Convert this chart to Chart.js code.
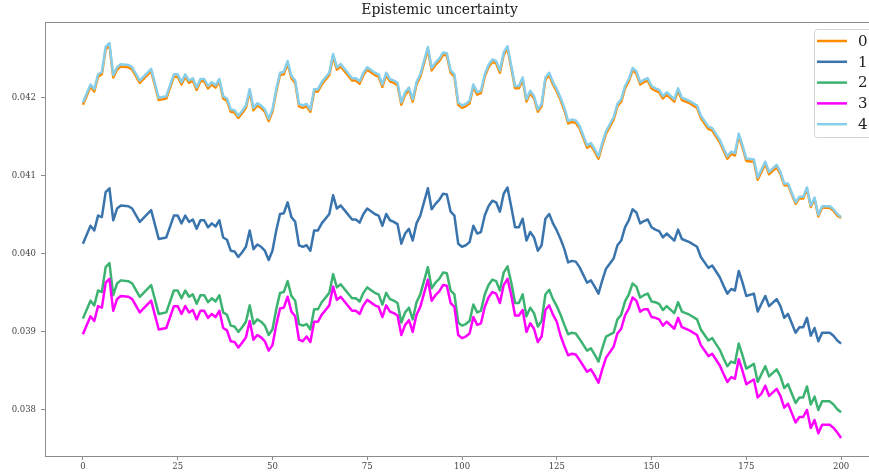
<!DOCTYPE html>
<html>
<head>
<meta charset="utf-8">
<script src="https://cdn.jsdelivr.net/npm/chart.js@4.4.0/dist/chart.umd.min.js"></script>
<style>
  html, body { margin: 0; padding: 0; background: #fff; overflow: hidden; }
  #wrap { position: absolute; left: 0; top: 0; width: 880px; height: 476px; }
</style>
</head>
<body>
<div id="wrap"><canvas id="graf"></canvas></div>
<script>
// x-positions (steps) shared by all five curves
const steps = [
  0, 2, 3, 4, 5, 6, 7, 8, 9, 10,
  12, 13, 15, 18, 20, 22, 24, 25, 26, 27,
  28, 29, 30, 31, 32, 33, 34, 35, 36, 37,
  38, 39, 40, 41, 42, 43, 44, 45, 46, 47,
  48, 49, 50, 51, 52, 53, 54, 55, 56, 57,
  58, 59, 60, 61, 62, 63, 65, 66, 67, 68,
  69, 71, 72, 73, 74, 75, 77, 78, 79, 80,
  81, 82, 83, 84, 85, 86, 87, 88, 89, 91,
  92, 93, 94, 95, 96, 97, 98, 99, 100, 101,
  102, 103, 104, 105, 106, 107, 108, 109, 110, 111,
  112, 113, 114, 115, 116, 117, 118, 119, 120, 121,
  122, 123, 124, 125, 126, 127, 128, 129, 130, 131,
  133, 134, 135, 136, 137, 138, 140, 141, 142, 143,
  144, 145, 146, 147, 148, 149, 150, 151, 152, 153,
  154, 156, 157, 158, 160, 162, 163, 165, 166, 168,
  169, 170, 171, 172, 173, 174, 175, 177, 178, 179,
  180, 181, 183, 184, 185, 186, 188, 189, 190, 191,
  192, 193, 194, 195, 197, 198, 199, 200
];

const serie0 = [
  0.04191, 0.04214, 0.04208, 0.04227, 0.04230, 0.04262, 0.04267, 0.04226, 0.04236, 0.04240,
  0.04239, 0.04236, 0.04219, 0.04234, 0.04197, 0.04199, 0.04227, 0.04227, 0.04217, 0.04227,
  0.04219, 0.04222, 0.04210, 0.04221, 0.04221, 0.04212, 0.04217, 0.04213, 0.04221, 0.04199,
  0.04196, 0.04182, 0.04181, 0.04174, 0.04180, 0.04187, 0.04208, 0.04184, 0.04190, 0.04187,
  0.04182, 0.04170, 0.04182, 0.04208, 0.04229, 0.04230, 0.04244, 0.04225, 0.04219, 0.04189,
  0.04187, 0.04189, 0.04182, 0.04208, 0.04208, 0.04217, 0.04229, 0.04253, 0.04236, 0.04240,
  0.04234, 0.04222, 0.04222, 0.04218, 0.04229, 0.04236, 0.04229, 0.04227, 0.04214, 0.04229,
  0.04221, 0.04219, 0.04216, 0.04191, 0.04204, 0.04210, 0.04195, 0.04217, 0.04227, 0.04262,
  0.04235, 0.04242, 0.04247, 0.04255, 0.04254, 0.04232, 0.04227, 0.04191, 0.04187, 0.04189,
  0.04193, 0.04214, 0.04204, 0.04206, 0.04227, 0.04239, 0.04246, 0.04244, 0.04232, 0.04255,
  0.04263, 0.04238, 0.04212, 0.04212, 0.04223, 0.04195, 0.04206, 0.04199, 0.04182, 0.04189,
  0.04223, 0.04229, 0.04217, 0.04208, 0.04197, 0.04184, 0.04167, 0.04169, 0.04168, 0.04161,
  0.04136, 0.04139, 0.04131, 0.04122, 0.04139, 0.04154, 0.04172, 0.04189, 0.04195, 0.04212,
  0.04221, 0.04235, 0.04231, 0.04217, 0.04220, 0.04222, 0.04212, 0.04209, 0.04207, 0.04199,
  0.04204, 0.04195, 0.04209, 0.04197, 0.04193, 0.04187, 0.04174, 0.04160, 0.04158, 0.04143,
  0.04132, 0.04122, 0.04128, 0.04126, 0.04151, 0.04136, 0.04119, 0.04118, 0.04095, 0.04105,
  0.04115, 0.04102, 0.04111, 0.04102, 0.04088, 0.04088, 0.04064, 0.04071, 0.04071, 0.04083,
  0.04060, 0.04070, 0.04048, 0.04059, 0.04059, 0.04055, 0.04049, 0.04046
];

const serie1 = [
  0.04013, 0.04036, 0.04030, 0.04049, 0.04047, 0.04079, 0.04084, 0.04043, 0.04058, 0.04062,
  0.04061, 0.04058, 0.04041, 0.04056, 0.04019, 0.04021, 0.04049, 0.04049, 0.04039, 0.04049,
  0.04041, 0.04044, 0.04032, 0.04043, 0.04043, 0.04034, 0.04039, 0.04035, 0.04043, 0.04021,
  0.04018, 0.04004, 0.04003, 0.03996, 0.04002, 0.04009, 0.04030, 0.04006, 0.04012, 0.04009,
  0.04004, 0.03992, 0.04004, 0.04030, 0.04051, 0.04052, 0.04066, 0.04047, 0.04041, 0.04011,
  0.04009, 0.04011, 0.04004, 0.04030, 0.04030, 0.04039, 0.04051, 0.04075, 0.04058, 0.04062,
  0.04056, 0.04044, 0.04044, 0.04040, 0.04051, 0.04058, 0.04051, 0.04049, 0.04036, 0.04051,
  0.04043, 0.04041, 0.04038, 0.04013, 0.04026, 0.04032, 0.04017, 0.04039, 0.04049, 0.04084,
  0.04057, 0.04064, 0.04069, 0.04077, 0.04076, 0.04054, 0.04049, 0.04013, 0.04009, 0.04011,
  0.04015, 0.04036, 0.04026, 0.04028, 0.04049, 0.04061, 0.04068, 0.04066, 0.04054, 0.04077,
  0.04085, 0.04060, 0.04034, 0.04034, 0.04045, 0.04017, 0.04028, 0.04021, 0.04004, 0.04011,
  0.04045, 0.04051, 0.04039, 0.04030, 0.04019, 0.04006, 0.03989, 0.03991, 0.03990, 0.03983,
  0.03963, 0.03966, 0.03958, 0.03949, 0.03966, 0.03981, 0.03994, 0.04011, 0.04017, 0.04034,
  0.04043, 0.04057, 0.04053, 0.04039, 0.04042, 0.04044, 0.04034, 0.04031, 0.04029, 0.04021,
  0.04026, 0.04017, 0.04031, 0.04019, 0.04015, 0.04009, 0.03996, 0.03982, 0.03985, 0.03970,
  0.03959, 0.03949, 0.03955, 0.03953, 0.03978, 0.03963, 0.03946, 0.03949, 0.03926, 0.03936,
  0.03946, 0.03933, 0.03942, 0.03933, 0.03918, 0.03923, 0.03899, 0.03906, 0.03906, 0.03918,
  0.03895, 0.03905, 0.03888, 0.03899, 0.03899, 0.03895, 0.03889, 0.03885
];

const serie2 = [
  0.03917, 0.03940, 0.03934, 0.03953, 0.03951, 0.03983, 0.03988, 0.03947, 0.03962, 0.03966,
  0.03965, 0.03962, 0.03945, 0.03960, 0.03923, 0.03925, 0.03953, 0.03953, 0.03943, 0.03953,
  0.03945, 0.03948, 0.03936, 0.03947, 0.03947, 0.03938, 0.03943, 0.03939, 0.03947, 0.03925,
  0.03922, 0.03908, 0.03907, 0.03900, 0.03906, 0.03913, 0.03934, 0.03910, 0.03916, 0.03913,
  0.03908, 0.03896, 0.03903, 0.03929, 0.03950, 0.03951, 0.03965, 0.03946, 0.03940, 0.03910,
  0.03908, 0.03910, 0.03903, 0.03929, 0.03929, 0.03938, 0.03950, 0.03974, 0.03957, 0.03961,
  0.03955, 0.03943, 0.03943, 0.03939, 0.03950, 0.03957, 0.03950, 0.03948, 0.03935, 0.03950,
  0.03942, 0.03940, 0.03937, 0.03912, 0.03925, 0.03931, 0.03916, 0.03938, 0.03948, 0.03983,
  0.03956, 0.03963, 0.03968, 0.03976, 0.03975, 0.03953, 0.03948, 0.03912, 0.03908, 0.03910,
  0.03914, 0.03935, 0.03925, 0.03927, 0.03948, 0.03960, 0.03967, 0.03965, 0.03953, 0.03976,
  0.03984, 0.03963, 0.03937, 0.03937, 0.03948, 0.03920, 0.03931, 0.03924, 0.03907, 0.03914,
  0.03948, 0.03954, 0.03942, 0.03933, 0.03922, 0.03909, 0.03897, 0.03899, 0.03898, 0.03891,
  0.03876, 0.03879, 0.03871, 0.03862, 0.03879, 0.03894, 0.03899, 0.03916, 0.03922, 0.03939,
  0.03948, 0.03962, 0.03958, 0.03944, 0.03947, 0.03949, 0.03939, 0.03938, 0.03936, 0.03928,
  0.03933, 0.03924, 0.03938, 0.03926, 0.03922, 0.03916, 0.03903, 0.03889, 0.03892, 0.03877,
  0.03866, 0.03856, 0.03862, 0.03860, 0.03885, 0.03870, 0.03853, 0.03859, 0.03836, 0.03846,
  0.03856, 0.03843, 0.03852, 0.03843, 0.03828, 0.03833, 0.03809, 0.03816, 0.03816, 0.03830,
  0.03807, 0.03817, 0.03800, 0.03811, 0.03811, 0.03807, 0.03801, 0.03797
];

const serie3 = [
  0.03897, 0.03920, 0.03914, 0.03933, 0.03931, 0.03963, 0.03968, 0.03927, 0.03942, 0.03946,
  0.03945, 0.03942, 0.03925, 0.03940, 0.03903, 0.03905, 0.03933, 0.03933, 0.03923, 0.03933,
  0.03925, 0.03928, 0.03916, 0.03927, 0.03927, 0.03918, 0.03923, 0.03919, 0.03927, 0.03905,
  0.03902, 0.03888, 0.03887, 0.03880, 0.03886, 0.03893, 0.03914, 0.03890, 0.03896, 0.03893,
  0.03888, 0.03876, 0.03883, 0.03909, 0.03930, 0.03931, 0.03945, 0.03926, 0.03920, 0.03890,
  0.03888, 0.03894, 0.03887, 0.03913, 0.03913, 0.03922, 0.03934, 0.03958, 0.03941, 0.03945,
  0.03939, 0.03927, 0.03927, 0.03923, 0.03934, 0.03941, 0.03934, 0.03932, 0.03919, 0.03934,
  0.03926, 0.03924, 0.03921, 0.03896, 0.03909, 0.03915, 0.03900, 0.03922, 0.03932, 0.03967,
  0.03940, 0.03947, 0.03952, 0.03960, 0.03959, 0.03937, 0.03932, 0.03896, 0.03892, 0.03894,
  0.03898, 0.03919, 0.03909, 0.03911, 0.03932, 0.03944, 0.03951, 0.03949, 0.03937, 0.03960,
  0.03968, 0.03947, 0.03921, 0.03921, 0.03928, 0.03900, 0.03911, 0.03904, 0.03887, 0.03894,
  0.03928, 0.03934, 0.03922, 0.03913, 0.03895, 0.03882, 0.03870, 0.03872, 0.03871, 0.03864,
  0.03849, 0.03852, 0.03844, 0.03835, 0.03852, 0.03867, 0.03881, 0.03898, 0.03904, 0.03921,
  0.03930, 0.03944, 0.03940, 0.03926, 0.03929, 0.03929, 0.03919, 0.03918, 0.03916, 0.03908,
  0.03913, 0.03904, 0.03918, 0.03906, 0.03902, 0.03896, 0.03883, 0.03869, 0.03872, 0.03857,
  0.03846, 0.03836, 0.03842, 0.03840, 0.03865, 0.03850, 0.03833, 0.03839, 0.03816, 0.03821,
  0.03831, 0.03818, 0.03827, 0.03818, 0.03803, 0.03808, 0.03784, 0.03791, 0.03791, 0.03800,
  0.03777, 0.03787, 0.03770, 0.03781, 0.03781, 0.03777, 0.03771, 0.03764
];

const serie4 = [
  0.04194, 0.04217, 0.04211, 0.04230, 0.04233, 0.04265, 0.04270, 0.04229, 0.04239, 0.04243,
  0.04242, 0.04239, 0.04222, 0.04237, 0.04200, 0.04202, 0.04230, 0.04230, 0.04220, 0.04230,
  0.04222, 0.04225, 0.04213, 0.04224, 0.04224, 0.04215, 0.04220, 0.04216, 0.04224, 0.04202,
  0.04199, 0.04185, 0.04184, 0.04177, 0.04183, 0.04190, 0.04211, 0.04187, 0.04193, 0.04190,
  0.04185, 0.04173, 0.04185, 0.04211, 0.04232, 0.04233, 0.04247, 0.04228, 0.04222, 0.04192,
  0.04190, 0.04192, 0.04185, 0.04211, 0.04211, 0.04220, 0.04232, 0.04256, 0.04239, 0.04243,
  0.04237, 0.04225, 0.04225, 0.04221, 0.04232, 0.04239, 0.04232, 0.04230, 0.04217, 0.04232,
  0.04224, 0.04222, 0.04219, 0.04194, 0.04207, 0.04213, 0.04198, 0.04220, 0.04230, 0.04265,
  0.04238, 0.04245, 0.04250, 0.04258, 0.04257, 0.04235, 0.04230, 0.04194, 0.04190, 0.04192,
  0.04196, 0.04217, 0.04207, 0.04209, 0.04230, 0.04242, 0.04249, 0.04247, 0.04235, 0.04258,
  0.04266, 0.04241, 0.04215, 0.04215, 0.04226, 0.04198, 0.04209, 0.04202, 0.04185, 0.04192,
  0.04226, 0.04232, 0.04220, 0.04211, 0.04200, 0.04187, 0.04170, 0.04172, 0.04171, 0.04164,
  0.04139, 0.04142, 0.04134, 0.04125, 0.04142, 0.04157, 0.04175, 0.04192, 0.04198, 0.04215,
  0.04224, 0.04238, 0.04234, 0.04220, 0.04223, 0.04225, 0.04215, 0.04212, 0.04210, 0.04202,
  0.04207, 0.04198, 0.04212, 0.04200, 0.04196, 0.04190, 0.04177, 0.04163, 0.04161, 0.04146,
  0.04135, 0.04125, 0.04131, 0.04129, 0.04154, 0.04139, 0.04122, 0.04121, 0.04098, 0.04108,
  0.04118, 0.04105, 0.04114, 0.04105, 0.04090, 0.04090, 0.04066, 0.04073, 0.04073, 0.04085,
  0.04062, 0.04072, 0.04050, 0.04061, 0.04061, 0.04057, 0.04051, 0.04047
];

const seriesLabels = ['0', '1', '2', '3', '4'];
const seriesColors = ['#ff8c00', '#3a74ad', '#3cb371', '#ff00ff', '#87ceeb'];
const xTicks = [0, 25, 50, 75, 100, 125, 150, 175, 200];
const yTicks = [0.038, 0.039, 0.040, 0.041, 0.042];

const spineColor = '#8c8c8c';
const serif = '"DejaVu Serif", "Liberation Serif", serif';

// top spine (matplotlib box), the left/bottom ones come from the axes
const topSpine = {
  id: 'topSpine',
  afterDraw(chart) {
    const a = chart.chartArea, ctx = chart.ctx;
    ctx.save();
    ctx.strokeStyle = spineColor;
    ctx.lineWidth = 1;
    ctx.beginPath();
    ctx.moveTo(a.left, a.top + 0.5);
    ctx.lineTo(a.right, a.top + 0.5);
    ctx.stroke();
    ctx.restore();
  }
};

// legend box in the upper right corner, like matplotlib's
const boxLegend = {
  id: 'boxLegend',
  afterDraw(chart) {
    const ctx = chart.ctx, a = chart.chartArea;
    const left = a.right - 65, top = a.top + 7;
    ctx.save();
    ctx.fillStyle = 'rgba(255,255,255,0.85)';
    ctx.strokeStyle = '#d4d4d4';
    ctx.lineWidth = 1;
    ctx.beginPath();
    ctx.roundRect(left + 0.5, top + 0.5, 60, 108, 3);
    ctx.fill();
    ctx.stroke();
    ctx.font = '15px ' + serif;
    ctx.textBaseline = 'middle';
    chart.data.datasets.forEach((ds, i) => {
      const y = top + 12 + i * 20.8;
      ctx.strokeStyle = ds.borderColor;
      ctx.lineWidth = 2.5;
      ctx.beginPath();
      ctx.moveTo(left + 3, y);
      ctx.lineTo(left + 33, y);
      ctx.stroke();
      ctx.fillStyle = '#222';
      ctx.fillText(ds.label, left + 44, y + 1);
    });
    ctx.restore();
  }
};

const allSeries = [serie0, serie1, serie2, serie3, serie4];

const graf = document.getElementById('graf');
new Chart(graf, {
  type: 'line',
  data: {
    datasets: allSeries.map((vals, i) => ({
      label: seriesLabels[i],
      data: steps.map((s, k) => ({ x: s, y: vals[k] })),
      borderColor: seriesColors[i],
      backgroundColor: seriesColors[i],
      borderWidth: 2.5,
      borderJoinStyle: 'round',
      pointRadius: 0,
      tension: 0,
      fill: false,
      order: 4 - i
    }))
  },
  options: {
    responsive: true,
    maintainAspectRatio: false,
    animation: false,
    layout: { padding: { left: 0, right: 1, top: 0, bottom: 0 } },
    plugins: {
      legend: { display: false },
      tooltip: { enabled: false },
      title: {
        display: true,
        text: 'Epistemic uncertainty',
        color: '#222',
        font: { family: serif, size: 14, weight: 'normal' },
        padding: { top: 2, bottom: 3.2 }
      }
    },
    scales: {
      x: {
        type: 'linear',
        min: -10,
        max: 210,
        afterBuildTicks: s => { s.ticks = xTicks.map(v => ({ value: v })); },
        afterFit: s => { s.height = 20; },
        grid: { drawOnChartArea: false, drawTicks: true, tickLength: 4, color: spineColor },
        border: { display: true, color: spineColor, width: 1 },
        ticks: { color: '#444', padding: 2, maxRotation: 0, font: { family: serif, size: 8.5 } }
      },
      y: {
        min: 0.03741,
        max: 0.04297,
        afterBuildTicks: s => { s.ticks = yTicks.map(v => ({ value: v })); },
        afterFit: s => { s.width = 45; },
        grid: { drawOnChartArea: false, drawTicks: true, tickLength: 4, color: spineColor },
        border: { display: true, color: spineColor, width: 1 },
        ticks: {
          color: '#444', padding: 5,
          font: { family: serif, size: 8.5 },
          callback: v => v.toFixed(3)
        }
      }
    }
  },
  plugins: [topSpine, boxLegend]
});
</script>
</body>
</html>
